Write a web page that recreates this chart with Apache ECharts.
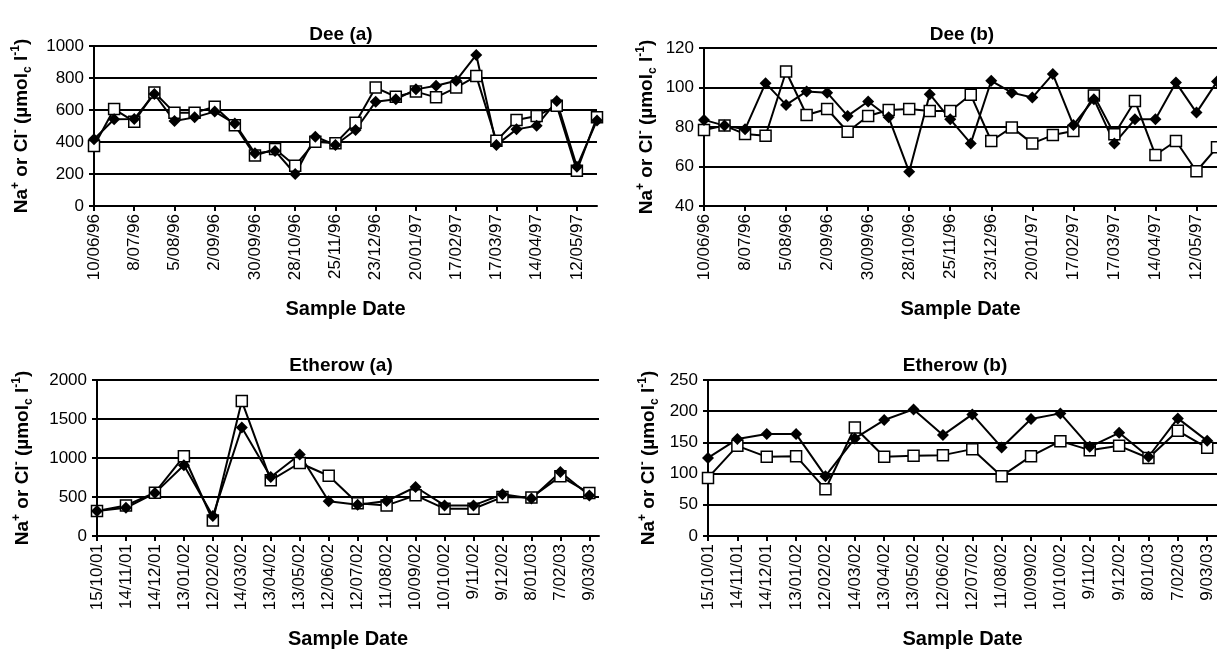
<!DOCTYPE html>
<html><head><meta charset="utf-8">
<script src="https://cdn.jsdelivr.net/npm/echarts@6/dist/echarts.min.js"></script>
<style>html,body{margin:0;padding:0;background:#fff}#c{width:1217px;height:652px}</style>
</head><body><div id="c"></div>
<script>
// ---- Data ----
const deeDates = ['10/06/96','24/06/96','8/07/96','22/07/96','5/08/96','19/08/96','2/09/96','16/09/96','30/09/96','14/10/96','28/10/96','11/11/96','25/11/96','9/12/96','23/12/96','6/01/97','20/01/97','3/02/97','17/02/97','3/03/97','17/03/97','31/03/97','14/04/97','28/04/97','12/05/97','26/05/97'];
const deeTickLabels = ['10/06/96','8/07/96','5/08/96','2/09/96','30/09/96','28/10/96','25/11/96','23/12/96','20/01/97','17/02/97','17/03/97','14/04/97','12/05/97'];
const deeClA = [375,606,527,710,583,583,621,505,315,356,252,402,392,521,740,683,715,679,740,812,408,537,562,627,221,555];
const deeNaA = [417,542,544,700,531,554,590,515,329,344,200,433,381,475,652,667,729,752,783,944,381,479,502,656,246,535];
const deeClB = [78.5,80.7,76.4,75.6,108.1,86.1,89.1,77.6,85.6,88.6,89.1,88.1,88.1,96.3,72.9,79.8,71.7,75.9,78,96,76.3,93.2,65.8,72.9,57.6,69.7];
const deeNaB = [83.6,80.7,78.8,102.2,91.2,98,97.4,85.6,92.9,84.9,57.3,96.6,83.9,71.7,103.4,97.4,94.9,106.8,81,94.1,71.7,83.9,83.9,102.5,87.3,103];

const ethDates = ['15/10/01','14/11/01','14/12/01','13/01/02','12/02/02','14/03/02','13/04/02','13/05/02','12/06/02','12/07/02','11/08/02','10/09/02','10/10/02','9/11/02','9/12/02','8/01/03','7/02/03','9/03/03'];
const ethTickLabels = ethDates.slice();
const ethClA = [320,392,555,1022,199,1730,714,936,772,420,392,521,350,350,499,495,765,550];
const ethNaA = [320,362,550,907,255,1391,756,1044,445,400,448,628,392,392,534,480,821,520];
const ethClB = [93.1,144.5,126.9,128,75,174,126.9,128.5,129.6,139.2,95.9,128,152,137.6,144.5,125,168.6,141.3];
const ethNaB = [125.2,155.3,163.3,163.3,95.9,156.4,185.8,202.9,161.7,194.9,141.9,187.4,196.5,142.9,165.4,127,188.5,152.5];

const titles = ['Dee (a)','Dee (b)','Etherow (a)','Etherow (b)'];
const yRanges = [[0,1000,200],[40,120,20],[0,2000,500],[0,250,50]];

// ---- helpers ----
function utc(s){const p=s.split('/').map(Number);const y=p[2]<50?2000+p[2]:1900+p[2];return Date.UTC(y,p[1]-1,p[0]);}
function dayOff(s,base){return Math.round((utc(s)-utc(base))/86400000);}

const FONT='Liberation Sans, Arial, sans-serif';
const yName='{b|Na}{sp|+}{b| or Cl}{sp|-}{b| (µmol}{sb|c}{b| l}{sp|-1}{b|)}';
const yRich={
  b:{fontSize:19,fontWeight:'bold',fontFamily:FONT,color:'#000',lineHeight:24,verticalAlign:'middle'},
  sp:{fontSize:12,fontWeight:'bold',fontFamily:FONT,color:'#000',lineHeight:14,verticalAlign:'top'},
  sb:{fontSize:12,fontWeight:'bold',fontFamily:FONT,color:'#000',lineHeight:12,verticalAlign:'bottom'}
};

const panels=[
  {dates:deeDates,ticks:deeTickLabels,cl:deeClA,na:deeNaA,xmax:350,grid:{left:94,top:46,width:503,height:160},yGap:60,title:[336,20]},
  {dates:deeDates,ticks:deeTickLabels,cl:deeClB,na:deeNaB,xmax:350,grid:{left:704,top:48,width:516,height:158},yGap:45,title:[957,20]},
  {dates:ethDates,ticks:ethTickLabels,cl:ethClA,na:ethNaA,xmax:520,grid:{left:97,top:380,width:502,height:156},yGap:62,title:[336,351]},
  {dates:ethDates,ticks:ethTickLabels,cl:ethClB,na:ethNaB,xmax:520,grid:{left:708,top:380,width:518,height:156},yGap:47,title:[950,351]}
];

const option={animation:false,backgroundColor:'#fff',title:[],grid:[],xAxis:[],yAxis:[],series:[]};
panels.forEach((p,i)=>{
  const base=p.dates[0];
  const tickDays=p.ticks.map(t=>dayOff(t,base));
  const lab={};p.ticks.forEach((t,k)=>{lab[tickDays[k]]=t;});
  option.title.push({text:titles[i],left:p.title[0],top:p.title[1],textAlign:'center',
    textStyle:{fontSize:19,fontWeight:'bold',fontFamily:FONT,color:'#000'}});
  option.grid.push(Object.assign({containLabel:false},p.grid));
  option.xAxis.push({type:'value',gridIndex:i,min:0,max:p.xmax,interval:p.ticks.length>13?30:28,
    name:'Sample Date',nameLocation:'middle',nameGap:93,
    nameTextStyle:{fontSize:20,fontWeight:'bold',fontFamily:FONT,color:'#000'},
    axisLine:{show:true,onZero:false,lineStyle:{color:'#000',width:2}},
    axisTick:{show:true,length:5,lineStyle:{color:'#000',width:2},customValues:tickDays},
    axisLabel:{rotate:90,margin:8,fontSize:17,fontFamily:FONT,color:'#000',customValues:tickDays,
      formatter:v=>lab[v]!==undefined?lab[v]:''},
    splitLine:{show:false}});
  const yr=yRanges[i];
  option.yAxis.push({type:'value',gridIndex:i,min:yr[0],max:yr[1],interval:yr[2],
    name:yName,nameLocation:'middle',nameGap:p.yGap,nameRotate:90,nameTextStyle:{rich:yRich},
    axisLine:{show:true,lineStyle:{color:'#000',width:2}},
    axisTick:{show:true,length:5,lineStyle:{color:'#000',width:2}},
    axisLabel:{margin:10,fontSize:17,fontFamily:FONT,color:'#000',formatter:v=>String(v)},
    splitLine:{show:true,lineStyle:{color:'#000',width:2}}});
  option.series.push({type:'line',name:'Cl-',xAxisIndex:i,yAxisIndex:i,
    data:p.dates.map((d,k)=>[dayOff(d,base),p.cl[k]]),
    symbol:'rect',symbolSize:11,showAllSymbol:true,
    lineStyle:{color:'#000',width:2},itemStyle:{color:'#fff',borderColor:'#000',borderWidth:1.5}});
  option.series.push({type:'line',name:'Na+',xAxisIndex:i,yAxisIndex:i,
    data:p.dates.map((d,k)=>[dayOff(d,base),p.na[k]]),
    symbol:'diamond',symbolSize:12,showAllSymbol:true,
    lineStyle:{color:'#000',width:2},itemStyle:{color:'#000',borderColor:'#000',borderWidth:0}});
});
const chart=echarts.init(document.getElementById('c'),null,{renderer:'canvas'});
chart.setOption(option);
</script></body></html>
